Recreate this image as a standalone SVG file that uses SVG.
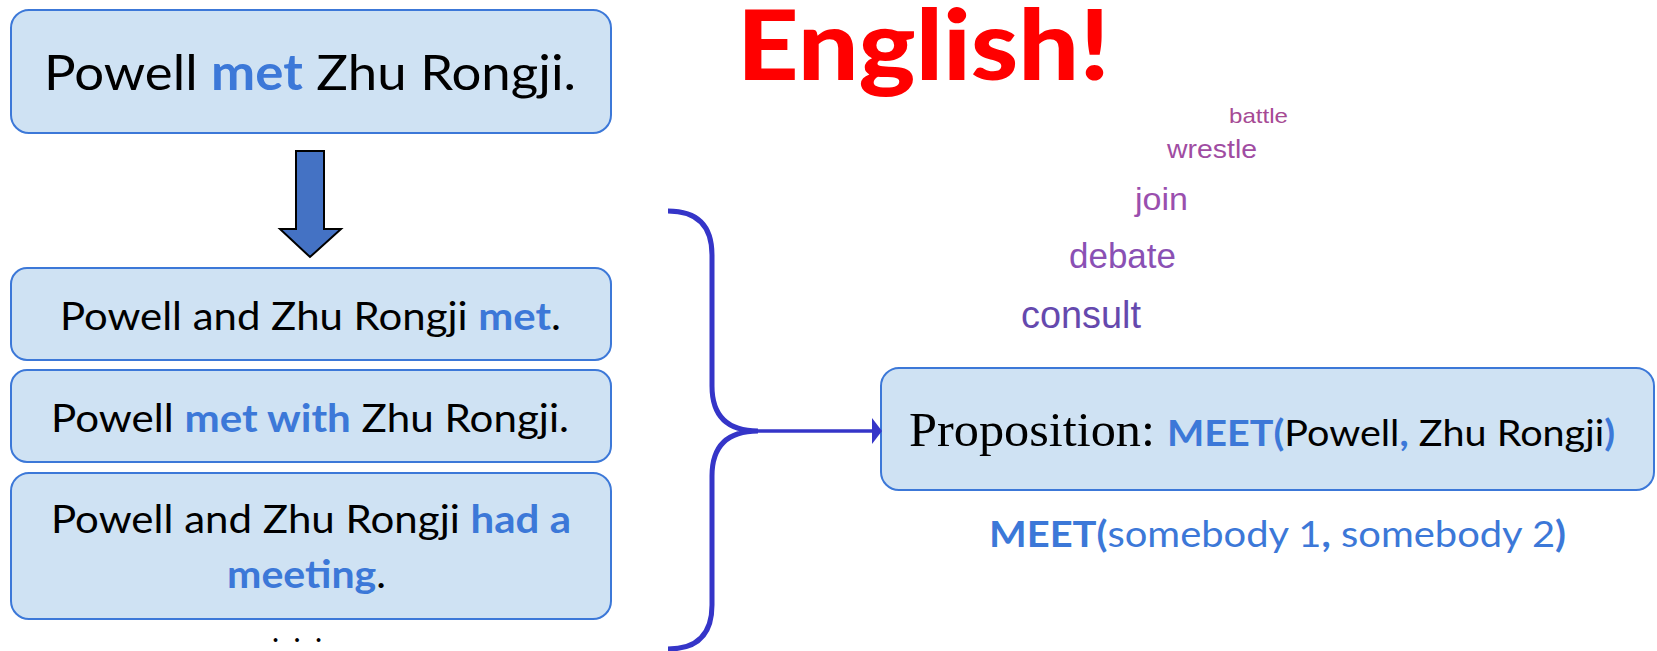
<svg xmlns="http://www.w3.org/2000/svg" width="1657" height="651" viewBox="0 0 1657 651">
<style>
.box{fill:#CFE2F3;stroke:#3C78D8;stroke-width:2}
.t{font-family:Lato,"Open Sans",sans-serif;fill:#000}
.b{fill:#3C78D8;font-weight:700}
.bl{fill:#3C78D8}
.w{font-family:"Liberation Sans",Arial,sans-serif}
</style>
<defs>
<marker id="ah" viewBox="0 0 10 26" refX="9" refY="13" markerWidth="10" markerHeight="26" orient="auto" markerUnits="userSpaceOnUse"><path d="M0,0 L10,13 L0,26 Z" fill="#3535C8"/></marker>
</defs>
<g id="title"><text class="t" x="737" y="80" font-size="98" font-weight="900" style="fill:#FF0000" textLength="373" lengthAdjust="spacingAndGlyphs">English!</text></g>
<g id="n1"><rect class="box" x="11" y="10" width="600" height="123" rx="18"/><text class="t" x="44" y="90" font-size="49" textLength="532" lengthAdjust="spacingAndGlyphs">Powell <tspan class="b">met</tspan> Zhu Rongji.</text></g>
<g id="n2"><rect class="box" x="11" y="268" width="600" height="92" rx="16"/><text class="t" x="60" y="330" font-size="39" textLength="501" lengthAdjust="spacingAndGlyphs">Powell and Zhu Rongji <tspan class="b">met</tspan>.</text></g>
<g id="n3"><rect class="box" x="11" y="370" width="600" height="92" rx="16"/><text class="t" x="51" y="432" font-size="39" textLength="518" lengthAdjust="spacingAndGlyphs">Powell <tspan class="b">met with</tspan> Zhu Rongji.</text></g>
<g id="n4"><rect class="box" x="11" y="473" width="600" height="146" rx="18"/><text class="t" x="51" y="533" font-size="39" textLength="520" lengthAdjust="spacingAndGlyphs">Powell and Zhu Rongji <tspan class="b">had a</tspan></text><text class="t" x="227" y="588" font-size="39" textLength="159" lengthAdjust="spacingAndGlyphs"><tspan class="b">meeting</tspan>.</text></g>
<g id="dots"><text class="t" x="272" y="642" font-size="30" textLength="50" lengthAdjust="spacing">. . .</text></g>
<g id="n5"><rect class="box" x="881" y="368" width="773" height="122" rx="18"/><text x="909" y="446" font-family="'Liberation Serif','Times New Roman',serif" font-size="49" textLength="246" lengthAdjust="spacingAndGlyphs">Proposition:</text><text class="t" x="1167" y="446" font-size="36" textLength="448" lengthAdjust="spacingAndGlyphs"><tspan class="b">MEET(</tspan>Powell<tspan class="b">,</tspan> Zhu Rongji<tspan class="b">)</tspan></text></g>
<g id="schema"><text class="t" x="989" y="547" font-size="36" textLength="577" lengthAdjust="spacingAndGlyphs"><tspan class="b">MEET(</tspan><tspan class="bl">somebody 1</tspan><tspan class="b">,</tspan><tspan class="bl"> somebody 2</tspan><tspan class="b">)</tspan></text></g>
<g id="cloud" class="w">
<text x="1229" y="123" font-size="21" fill="#A64A94" textLength="59" lengthAdjust="spacingAndGlyphs">battle</text>
<text x="1167" y="158" font-size="25" fill="#A04CA2" textLength="90" lengthAdjust="spacingAndGlyphs">wrestle</text>
<text x="1135" y="210" font-size="31" fill="#9A4FAE" textLength="53" lengthAdjust="spacingAndGlyphs">join</text>
<text x="1069" y="268" font-size="35" fill="#8A50B4" textLength="107" lengthAdjust="spacingAndGlyphs">debate</text>
<text x="1021" y="328" font-size="39" fill="#6549AE" textLength="120" lengthAdjust="spacingAndGlyphs">consult</text>
</g>
<g id="connectors">
<path d="M296,151 H324 V229 H341 L310,257 L280,229 H296 Z" fill="#4472C4" stroke="#000" stroke-width="2"/>
<path d="M668,211 Q712,211 712,255 V386 Q712,431 758,431 Q712,431 712,476 V605 Q712,649 668,649" fill="none" stroke="#3535C8" stroke-width="5"/>
<line x1="756" y1="431" x2="881" y2="431" stroke="#3535C8" stroke-width="3.5" marker-end="url(#ah)"/>
</g>
</svg>
